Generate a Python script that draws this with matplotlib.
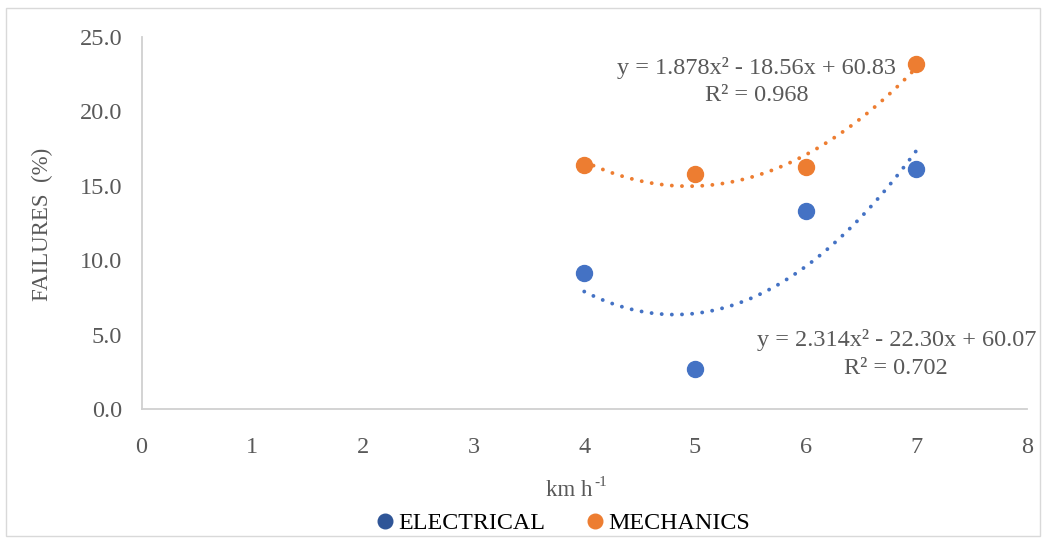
import numpy as np
import matplotlib.pyplot as plt
from matplotlib.lines import Line2D
from matplotlib.patches import Rectangle

plt.rcParams['font.family'] = ['Liberation Serif', 'DejaVu Serif']

# Speed (km/h) and failure shares (%)
speed = [4, 5, 6, 7]
electrical = [9.13, 2.70, 13.29, 16.12]
mechanics = [16.37, 15.80, 16.26, 23.20]

# Quadratic trend coefficients (a, b, c) and R²
elec_coef = [2.314, -22.30, 60.07]
elec_r2 = 0.702
mech_coef = [1.878, -18.56, 60.83]
mech_r2 = 0.968

series_names = ['ELECTRICAL', 'MECHANICS']
x_ticks = [0, 1, 2, 3, 4, 5, 6, 7, 8]
y_ticks = [0, 5, 10, 15, 20, 25]

BLUE = '#4472C4'
BLUE_DARK = '#2F5597'
ORANGE = '#ED7D31'
GREY = '#595959'

fig = plt.figure(figsize=(10.46, 5.41), dpi=100)
fig.patches.append(Rectangle((0.006, 0.01), 0.988, 0.975, transform=fig.transFigure,
                             fill=False, edgecolor='#D9D9D9', linewidth=1.0))
ax = fig.add_axes([0.1353, 0.244, 0.8465, 0.6876])

xs = np.linspace(4, 7, 200)
for coef, col in [(elec_coef, BLUE), (mech_coef, ORANGE)]:
    ys = np.polyval(coef, xs)
    ax.plot(xs, ys, color=col, linewidth=2.8, linestyle=(0, (0.01, 2.6)),
            dash_capstyle='round', zorder=2)

ax.plot(speed, electrical, 'o', color=BLUE, markersize=11.5, zorder=3)
ax.plot(speed, mechanics, 'o', color=ORANGE, markersize=11.5, zorder=3)


def eq_text(coef):
    a, b, c = coef
    sb = '-' if b < 0 else '+'
    sc = '-' if c < 0 else '+'
    return f'y = {a:.3f}x² {sb} {abs(b):.2f}x {sc} {abs(c):.2f}'


EQ_FS = 17.5
ax.text(5.56, 22.95, eq_text(mech_coef), ha='center', va='center', fontsize=EQ_FS, color=GREY)
ax.text(5.56, 21.1, f'R² = {mech_r2:.3f}', ha='center', va='center', fontsize=EQ_FS, color=GREY)
ax.text(6.82, 4.64, eq_text(elec_coef), ha='center', va='center', fontsize=EQ_FS, color=GREY)
ax.text(6.82, 2.7, f'R² = {elec_r2:.3f}', ha='center', va='center', fontsize=EQ_FS, color=GREY)

ax.set_xlim(0, 8)
ax.set_ylim(0, 25)
ax.set_xticks(x_ticks)
ax.set_yticks(y_ticks)
ax.set_yticklabels([f'{v:.1f}' for v in y_ticks])
ax.tick_params(axis='both', length=0, labelsize=17.5, labelcolor=GREY)
ax.tick_params(axis='x', pad=20)
ax.tick_params(axis='y', pad=14)
for side in ['top', 'right']:
    ax.spines[side].set_visible(False)
for side in ['left', 'bottom']:
    ax.spines[side].set_color('#D0D0D0')
    ax.spines[side].set_linewidth(1.3)

fig.text(42 / 1046, 1 - 224 / 541, 'FAILURES  (%)', rotation=90, ha='center', va='center',
         fontsize=16.5, color=GREY)
fig.text(593 / 1046, 1 - 491 / 541, 'km h', ha='right', va='center',
         fontsize=16.5, color=GREY)
fig.text(594 / 1046, 1 - 483 / 541, '-1', ha='left', va='center',
         fontsize=11, color=GREY)

handles = [Line2D([], [], marker='o', linestyle='none', color=BLUE_DARK, markersize=10.5),
           Line2D([], [], marker='o', linestyle='none', color=ORANGE, markersize=10.5)]
fig.legend(handles, series_names, loc='center', bbox_to_anchor=(0.537, 1 - 523 / 541),
           ncol=2, frameon=False, fontsize=17.3, handletextpad=0.05, columnspacing=1.55,
           handlelength=1.0)

fig.savefig('out.png', dpi=100)
